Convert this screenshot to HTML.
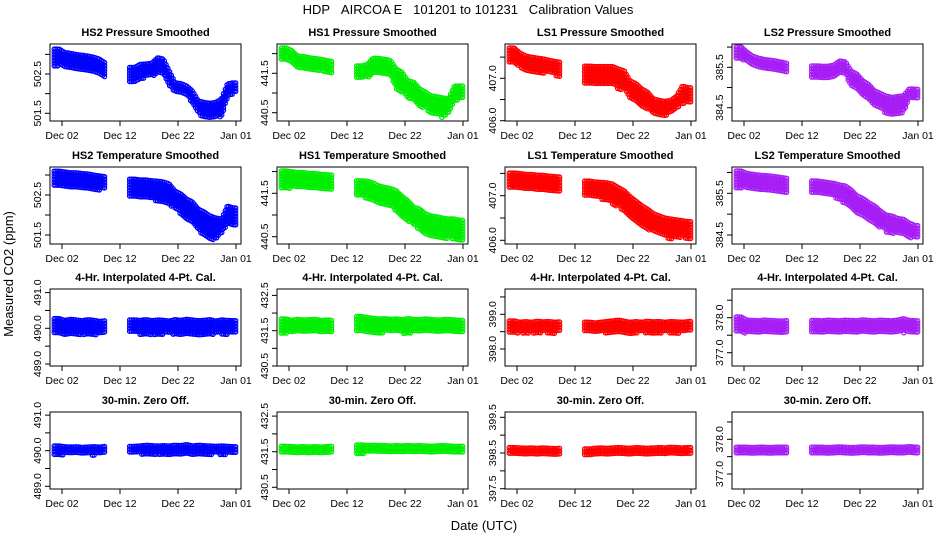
<!DOCTYPE html>
<html><head><meta charset="utf-8">
<style>
html,body{margin:0;padding:0;background:#fff;}
svg{display:block;font-family:"Liberation Sans",Arial,sans-serif;}
</style></head>
<body>
<svg id="chart" width="936" height="540" viewBox="0 0 936 540" xmlns="http://www.w3.org/2000/svg">
<text x="468" y="14" text-anchor="middle" font-size="13" style="white-space:pre">HDP&#160;&#160;&#160;AIRCOA E&#160;&#160;&#160;101201 to 101231&#160;&#160;&#160;Calibration Values</text>
<text x="0" y="0" transform="translate(13,274) rotate(-90)" text-anchor="middle" font-size="13">Measured CO2 (ppm)</text>
<text x="484" y="530" text-anchor="middle" font-size="13">Date (UTC)</text>
</svg>
<script>
const xTickDays = [1, 11, 21, 31];
const xTickLabels = ["Dec 02", "Dec 12", "Dec 22", "Jan 01"];
const titles = ["HS2 Pressure Smoothed","HS1 Pressure Smoothed","LS1 Pressure Smoothed","LS2 Pressure Smoothed",
"HS2 Temperature Smoothed","HS1 Temperature Smoothed","LS1 Temperature Smoothed","LS2 Temperature Smoothed",
"4-Hr. Interpolated 4-Pt. Cal.","4-Hr. Interpolated 4-Pt. Cal.","4-Hr. Interpolated 4-Pt. Cal.","4-Hr. Interpolated 4-Pt. Cal.",
"30-min. Zero Off.","30-min. Zero Off.","30-min. Zero Off.","30-min. Zero Off."];
const yTicks = [
[501.5,502.0,502.5,503.0],[440.5,441.0,441.5,442.0],[406.0,406.5,407.0,407.5],[384.5,385.0,385.5,386.0],
[501.5,502.0,502.5,503.0],[440.5,441.0,441.5,442.0],[406.0,406.5,407.0,407.5],[384.5,385.0,385.5,386.0],
[489.0,489.5,490.0,490.5,491.0],[430.5,431.0,431.5,432.0,432.5],[398.0,398.5,399.0,399.5],[377.0,377.5,378.0,378.5],
[489.0,489.5,490.0,490.5,491.0],[430.5,431.0,431.5,432.0,432.5],[397.5,398.0,398.5,399.0,399.5],[377.0,377.5,378.0,378.5]];
const yLabels = [
["501.5","502.5"],["440.5","441.5"],["406.0","407.0"],["384.5","385.5"],
["501.5","502.5"],["440.5","441.5"],["406.0","407.0"],["384.5","385.5"],
["489.0","490.0","491.0"],["430.5","431.5","432.5"],["398.0","399.0"],["377.0","378.0"],
["489.0","490.0","491.0"],["430.5","431.5","432.5"],["397.5","398.5","399.5"],["377.0","378.0"]];
const n=null;
const hi1=[503.16,503.07,503.05,503.02,503.0,502.98,502.95,502.9,502.8,n,n,n,n,502.69,502.77,502.78,502.8,502.94,502.9,502.6,502.3,502.28,502.22,502.09,501.84,501.8,501.78,501.8,501.89,502.27,502.3];
const lo1=[502.68,502.65,502.62,502.6,502.58,502.52,502.5,502.45,502.4,n,n,n,n,502.26,502.35,502.38,502.4,502.47,502.45,502.18,501.97,501.95,501.92,501.71,501.46,501.35,501.33,501.35,501.38,501.84,501.97];
const hi2=[442.17,442.1,441.96,441.95,441.92,441.9,441.88,441.85,441.82,n,n,n,n,441.71,441.75,441.91,441.9,441.88,441.85,441.63,441.55,441.33,441.3,441.13,441.05,440.95,440.93,440.9,440.88,441.2,441.2];
const lo2=[441.79,441.7,441.6,441.58,441.55,441.53,441.55,441.5,441.48,n,n,n,n,441.33,441.35,441.46,441.46,441.45,441.4,441.08,441.0,440.82,440.8,440.62,440.6,440.44,440.4,440.34,440.44,440.77,440.8];
const hi3=[407.74,407.62,407.55,407.52,407.5,407.48,407.45,407.42,407.4,n,n,n,n,407.31,407.3,407.3,407.3,407.3,407.24,407.2,406.96,406.9,406.77,406.7,406.54,406.5,406.48,406.5,406.6,406.84,406.8];
const lo3=[407.31,407.25,407.15,407.12,407.1,407.1,407.08,407.05,407.0,n,n,n,n,406.84,406.85,406.84,406.84,406.84,406.72,406.7,406.49,406.45,406.3,406.25,406.13,406.1,406.1,406.13,406.25,406.37,406.4];
const hi4=[386.03,385.9,385.8,385.75,385.72,385.7,385.68,385.65,385.62,n,n,n,n,385.56,385.55,385.55,385.58,385.68,385.66,385.43,385.35,385.19,385.1,384.94,384.88,384.81,384.78,384.8,384.82,384.99,384.98];
const lo4=[385.68,385.6,385.5,385.48,385.45,385.42,385.4,385.38,385.36,n,n,n,n,385.19,385.18,385.18,385.2,385.31,385.28,384.99,384.9,384.74,384.65,384.49,384.45,384.32,384.3,384.32,384.35,384.69,384.7];
const hi5=[503.12,503.1,503.08,503.08,503.06,503.05,503.02,503.0,502.98,n,n,n,n,502.92,502.9,502.9,502.88,502.87,502.85,502.8,502.62,502.55,502.42,502.35,502.17,502.1,502.0,501.95,501.92,502.25,502.2];
const lo5=[502.7,502.68,502.66,502.65,502.64,502.62,502.62,502.6,502.6,n,n,n,n,502.42,502.42,502.4,502.38,502.3,502.25,502.2,502.12,502.0,501.87,501.75,501.57,501.45,501.37,501.35,501.5,501.75,501.7];
const hi6=[442.04,442.02,442.0,442.0,441.98,441.98,441.96,441.95,441.94,n,n,n,n,441.81,441.8,441.76,441.69,441.66,441.63,441.58,441.45,441.35,441.2,441.16,441.05,441.0,440.98,440.95,440.93,440.93,440.9];
const lo6=[441.58,441.6,441.6,441.58,441.58,441.56,441.56,441.55,441.55,n,n,n,n,441.39,441.35,441.3,441.23,441.2,441.15,441.07,440.95,440.84,440.72,440.65,440.55,440.45,440.42,440.42,440.44,440.42,440.4];
const hi7=[407.53,407.52,407.5,407.5,407.48,407.48,407.46,407.45,407.44,n,n,n,n,407.35,407.33,407.32,407.31,407.28,407.2,407.13,407.0,406.9,406.8,406.72,406.62,406.57,406.52,406.5,406.48,406.46,406.44];
const lo7=[407.13,407.12,407.12,407.1,407.1,407.08,407.08,407.07,407.06,n,n,n,n,406.95,406.93,406.9,406.85,406.79,406.72,406.63,406.5,406.41,406.3,406.23,406.15,406.12,406.05,406.0,406.02,406.05,406.0];
const hi8=[386.06,386.0,385.98,385.96,385.95,385.94,385.92,385.9,385.88,n,n,n,n,385.82,385.8,385.78,385.76,385.72,385.7,385.6,385.46,385.4,385.3,385.22,385.1,385.0,384.98,384.92,384.9,384.81,384.75];
const lo8=[385.6,385.6,385.58,385.56,385.55,385.54,385.52,385.5,385.48,n,n,n,n,385.46,385.44,385.42,385.38,385.3,385.22,385.1,384.98,384.9,384.8,384.74,384.65,384.55,384.5,384.5,384.48,384.42,384.38];
const hi9=[490.3,490.25,490.28,490.26,490.24,490.27,490.25,490.22,490.24,n,n,n,n,490.26,490.25,490.27,490.24,490.26,490.25,490.23,490.27,490.25,490.28,490.26,490.24,490.25,490.27,490.23,490.26,490.25,490.24];
const lo9=[489.78,489.8,489.76,489.78,489.8,489.77,489.79,489.78,489.8,n,n,n,n,489.82,489.8,489.78,489.8,489.79,489.8,489.81,489.78,489.8,489.79,489.8,489.78,489.8,489.79,489.8,489.81,489.8,489.82];
const hi10=[431.86,431.82,431.85,431.83,431.84,431.85,431.82,431.83,431.82,n,n,n,n,431.93,431.9,431.88,431.86,431.87,431.85,431.86,431.84,431.87,431.85,431.84,431.86,431.85,431.83,431.84,431.85,431.83,431.82];
const lo10=[431.4,431.42,431.4,431.41,431.4,431.42,431.41,431.42,431.43,n,n,n,n,431.42,431.4,431.41,431.4,431.42,431.4,431.41,431.39,431.4,431.41,431.4,431.42,431.4,431.41,431.4,431.42,431.41,431.42];
const hi11=[398.84,398.8,398.82,398.8,398.83,398.81,398.82,398.8,398.81,n,n,n,n,398.8,398.78,398.8,398.82,398.84,398.86,398.83,398.8,398.82,398.8,398.83,398.81,398.82,398.8,398.82,398.81,398.8,398.82];
const lo11=[398.42,398.44,398.42,398.43,398.42,398.44,398.43,398.42,398.44,n,n,n,n,398.43,398.42,398.44,398.43,398.42,398.43,398.44,398.42,398.43,398.44,398.42,398.43,398.42,398.44,398.43,398.42,398.43,398.44];
const hi12=[378.05,377.96,377.95,377.94,377.96,377.95,377.94,377.93,377.95,n,n,n,n,377.95,377.94,377.96,377.95,377.94,377.96,377.95,377.94,377.97,377.95,377.94,377.96,377.95,377.94,377.96,378.0,377.95,377.94];
const lo12=[377.55,377.52,377.55,377.54,377.55,377.56,377.54,377.55,377.56,n,n,n,n,377.55,377.54,377.56,377.55,377.54,377.55,377.56,377.54,377.55,377.56,377.55,377.54,377.55,377.56,377.55,377.54,377.55,377.56];
const hi13=[490.16,490.14,490.13,490.14,490.12,490.13,490.14,490.13,490.15,n,n,n,n,490.15,490.16,490.18,490.17,490.16,490.17,490.16,490.18,490.17,490.2,490.16,490.18,490.17,490.16,490.15,490.16,490.15,490.14];
const lo13=[489.86,489.85,489.84,489.85,489.86,489.85,489.84,489.86,489.86,n,n,n,n,489.86,489.87,489.86,489.86,489.87,489.86,489.86,489.85,489.86,489.84,489.86,489.85,489.86,489.86,489.87,489.86,489.86,489.87];
const hi14=[431.68,431.67,431.66,431.67,431.66,431.67,431.66,431.67,431.68,n,n,n,n,431.72,431.7,431.71,431.7,431.7,431.69,431.7,431.69,431.7,431.69,431.7,431.69,431.68,431.69,431.7,431.69,431.68,431.68];
const lo14=[431.42,431.43,431.42,431.42,431.43,431.42,431.43,431.42,431.43,n,n,n,n,431.42,431.42,431.43,431.42,431.42,431.43,431.42,431.43,431.42,431.43,431.42,431.42,431.43,431.42,431.43,431.42,431.42,431.43];
const hi15=[398.68,398.67,398.66,398.67,398.66,398.67,398.66,398.65,398.66,n,n,n,n,398.64,398.66,398.67,398.66,398.67,398.68,398.67,398.66,398.68,398.67,398.66,398.67,398.68,398.67,398.69,398.68,398.67,398.68];
const lo15=[398.41,398.4,398.41,398.4,398.41,398.4,398.41,398.41,398.4,n,n,n,n,398.42,398.41,398.41,398.42,398.41,398.41,398.42,398.41,398.42,398.41,398.42,398.41,398.42,398.41,398.42,398.41,398.42,398.41];
const hi16=[377.8,377.8,377.79,377.8,377.8,377.79,377.8,377.8,377.8,n,n,n,n,377.8,377.8,377.79,377.8,377.81,377.8,377.79,377.8,377.81,377.8,377.8,377.79,377.8,377.81,377.8,377.8,377.82,377.8];
const lo16=[377.54,377.53,377.54,377.54,377.53,377.54,377.53,377.54,377.54,n,n,n,n,377.54,377.53,377.54,377.54,377.53,377.54,377.53,377.54,377.53,377.54,377.54,377.53,377.54,377.53,377.54,377.53,377.53,377.54];
const his=[hi1,hi2,hi3,hi4,hi5,hi6,hi7,hi8,hi9,hi10,hi11,hi12,hi13,hi14,hi15,hi16];
const los=[lo1,lo2,lo3,lo4,lo5,lo6,lo7,lo8,lo9,lo10,lo11,lo12,lo13,lo14,lo15,lo16];

// layout (pixels, not data)
const colLeft=[50,277,505,732], rowTop=[44,167,289,412], boxW=191, boxH=77;
const colors=["#0000ff","#00ee00","#ff0000","#a61ef5"];
const yRef=[
[502.5,74,501.5,113.3],[441.5,73.3,440.5,112.7],[407.0,78.3,406.0,120.7],[385.5,67.3,384.5,107.7],
[502.5,195,501.5,235],[441.5,193.3,440.5,236.7],[407.0,195.7,406.0,240.3],[385.5,193.3,384.5,235],
[490,328.3,489,364],[431.5,330.7,430.5,366],[399,314.3,398,349],[378,317.7,377,352.7],
[490,450.7,489,486.3],[431.5,451.7,430.5,487.3],[398.5,453,397.5,488.7],[378,439.3,377,474]];
const NS="http://www.w3.org/2000/svg";
const svg=document.getElementById('chart');
function mk(tag,attrs,parent){const e=document.createElementNS(NS,tag);for(const k in attrs)e.setAttribute(k,attrs[k]);parent.appendChild(e);return e;}

for(let p=0;p<16;p++){
  const c=p%4, r=Math.floor(p/4);
  const L=colLeft[c], T=rowTop[r];
  const xs=d=>L+6.2+d*5.8;
  const [v1,p1,v2,p2]=yRef[p];
  const ys=v=>p1+(v-v1)*(p2-p1)/(v2-v1);
  const g=mk('g',{},svg);
  
  
  const t=mk('text',{x:L+boxW/2,y:T-8,'text-anchor':'middle','font-size':'11','font-weight':'bold'},g);
  t.textContent=titles[p];
  
  
  const pts=mk('g',{fill:'none',stroke:colors[c],'stroke-width':'1.2'},g);
  
  
  const hi=his[p], lo=los[p], N=hi.length;
  let i=0;
  while(i<N){
    if(hi[i]==null){i++;continue;}
    let j=i; while(j+1<N && hi[j+1]!=null) j++;
    const dStart=i-0.35;
    const dEnd=(j===N-1)?31.1:j+0.45;
    for(let d=dStart; d<=dEnd; d+=0.3){
      let k=Math.floor(d-0.5);
      let a,b;
      if(d-0.5<=i){a=hi[i];b=lo[i];}
      else if(k>=j){a=hi[j];b=lo[j];}
      else{const f=d-0.5-k;a=hi[k]+(hi[k+1]-hi[k])*f;b=lo[k]+(lo[k+1]-lo[k])*f;}
      const x=xs(d), yt=ys(a)+1, yb=ys(b)-1;
      for(let y=yt; y<=yb+0.01; y+=2.8){
        mk('circle',{cx:x.toFixed(1),cy:y.toFixed(1),r:'2.1'},pts);
      }
    }
    i=j+1;
  }
  const box=mk('rect',{x:L,y:T,width:boxW,height:boxH,fill:'none',stroke:'#000','stroke-width':'1'},g);
  
  
  xTickDays.forEach((d,k)=>{
    const x=xs(d);
    mk('line',{x1:x,y1:T+boxH,x2:x,y2:T+boxH+5,stroke:'#000'},g);
    const tl=mk('text',{x:x,y:T+boxH+18,'text-anchor':'middle','font-size':'10.5'},g);
    tl.textContent=xTickLabels[k];
    
    
  });
  yTicks[p].forEach(v=>{
    const y=ys(v);
    if(y<T-1||y>T+boxH+1) return;
    mk('line',{x1:L-5,y1:y,x2:L,y2:y,stroke:'#000'},g);
    const lab=v.toFixed(1);
    if(yLabels[p].indexOf(lab)>=0){
      const tl=mk('text',{x:0,y:0,transform:`translate(${L-9},${y}) rotate(-90)`,'text-anchor':'middle','font-size':'10.5'},g);
      tl.textContent=lab;
      
      
    }
  });
}
</script>
</body></html>
